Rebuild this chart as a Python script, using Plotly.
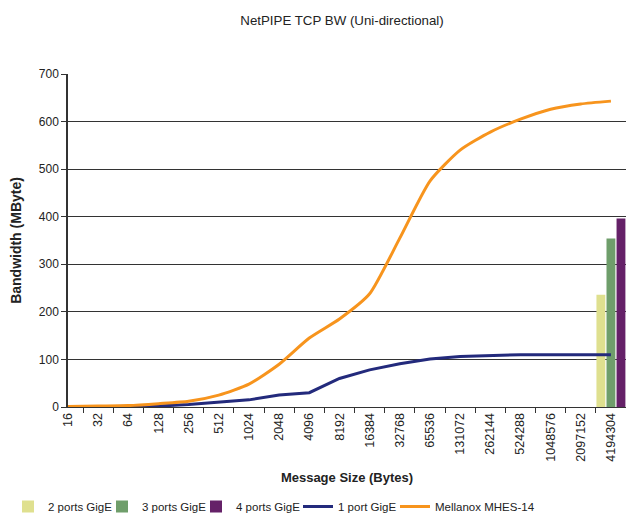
import plotly.graph_objects as go

sizes = ["16", "32", "64", "128", "256", "512", "1024", "2048", "4096", "8192",
         "16384", "32768", "65536", "131072", "262144", "524288", "1048576",
         "2097152", "4194304"]
mellanox = [1, 2, 3, 7, 12, 25, 48, 90, 145, 185, 238, 355, 475, 540, 578, 605, 626, 637, 643]
one_port = [0, 0.5, 1, 2, 5, 10, 15, 25, 30, 60, 78, 91, 101, 106, 108, 110, 110, 110, 110]
bar_cat = ["4194304"]
two_ports = [236]
three_ports = [354]
four_ports = [396]

FONT = "Liberation Sans, Arial, sans-serif"

fig = go.Figure()
fig.add_bar(x=bar_cat, y=two_ports, name="2 ports GigE", marker_color="#dfe08f",
            marker_line_width=0, legend="legend")
fig.add_bar(x=bar_cat, y=three_ports, name="3 ports GigE", marker_color="#6f9e6b",
            marker_line_width=0, legend="legend2")
fig.add_bar(x=bar_cat, y=four_ports, name="4 ports GigE", marker_color="#652168",
            marker_line_width=0, legend="legend3")
fig.add_scatter(x=sizes, y=one_port, name="1 port GigE", mode="lines", legend="legend4",
                line=dict(color="#232a7c", width=3))
fig.add_scatter(x=sizes, y=mellanox, name="Mellanox MHES-14", mode="lines", legend="legend5",
                line=dict(color="#f7941d", width=3, shape="spline", smoothing=0.6))

LEG_Y = -0.30
def leg(x):
    return dict(orientation="h", x=x, xanchor="left", y=LEG_Y, yanchor="middle",
                font=dict(size=11.5, color="#222"), itemwidth=30, bgcolor="rgba(0,0,0,0)")

fig.update_layout(
    width=618, height=513,
    margin=dict(l=60, r=0, t=66, b=111),
    paper_bgcolor="white", plot_bgcolor="white",
    font=dict(family=FONT, size=12, color="#222"),
    title=dict(text="NetPIPE TCP BW (Uni-directional)", x=0.5405, xanchor="center",
               y=0.976, yanchor="middle", font=dict(size=13.3, color="#222")),
    barmode="group", bargap=0.0, bargroupgap=0.12,
    showlegend=True,
    legend=leg(-0.1075),
    legend2=leg(0.0609),
    legend3=leg(0.2294),
    legend4=leg(0.4122),
    legend5=leg(0.5860),
    xaxis=dict(type="category", categoryorder="array", categoryarray=sizes,
               tickangle=-90, tickson="boundaries", ticks="outside", ticklen=5,
               tickcolor="#333", showline=True, linecolor="#333", linewidth=1,
               showgrid=False, tickfont=dict(size=12.5),
               title=dict(text="<b>Message Size (Bytes)</b>", font=dict(size=13), standoff=12)),
    yaxis=dict(range=[0, 700], dtick=100, ticks="outside", ticklen=5, tickcolor="#333",
               showline=True, linecolor="#333", linewidth=1.5,
               showgrid=True, gridcolor="#333", gridwidth=1, zeroline=False,
               tickfont=dict(size=12),
               title=dict(text="<b>Bandwidth (MByte)</b>", font=dict(size=14), standoff=14)),
)

fig.write_html("out.html")
